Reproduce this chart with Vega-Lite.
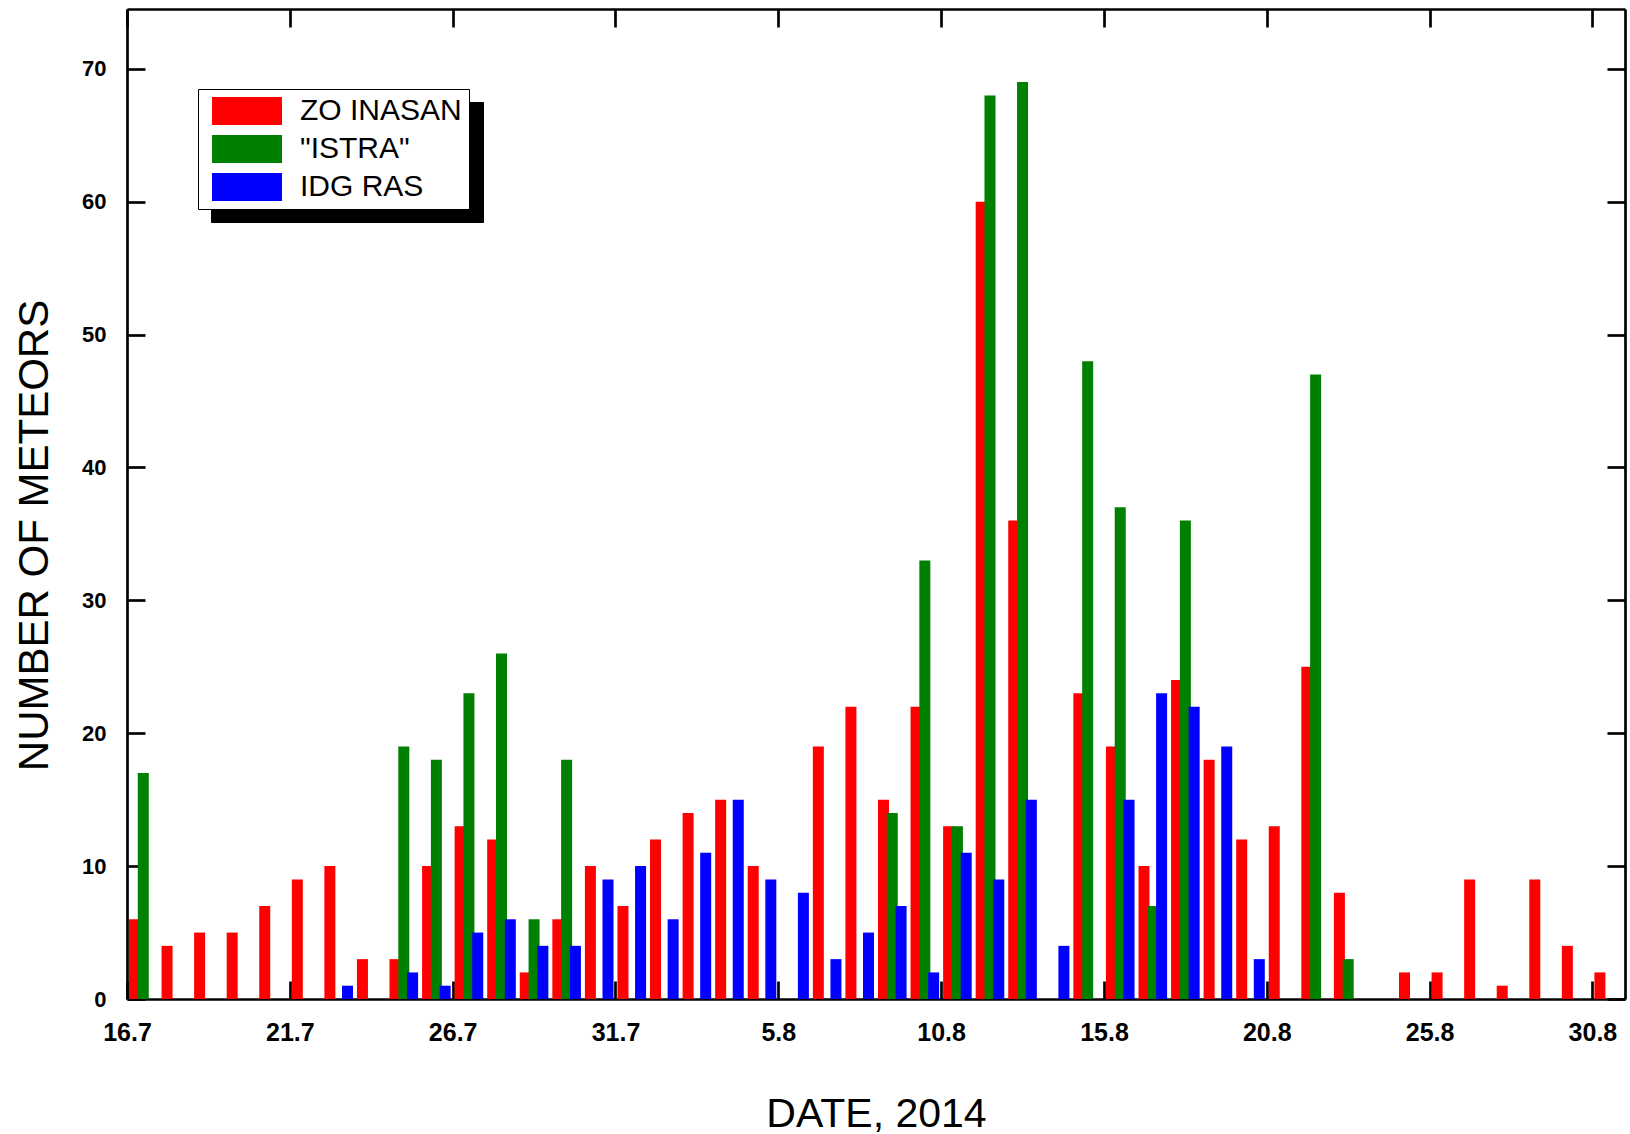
{
  "$schema": "https://vega.github.io/schema/vega-lite/v6.json",
  "width": 1498,
  "height": 990,
  "autosize": {"type": "none"},
  "padding": {"left": 127, "top": 9, "right": 5, "bottom": 135},
  "background": "white",
  "config": {"view": {"stroke": null}, "font": "Liberation Sans"},
  "data": {"values": [
    {"date": "16.7", "series": "ZO INASAN", "count": 6},
    {"date": "17.7", "series": "ZO INASAN", "count": 4},
    {"date": "18.7", "series": "ZO INASAN", "count": 5},
    {"date": "19.7", "series": "ZO INASAN", "count": 5},
    {"date": "20.7", "series": "ZO INASAN", "count": 7},
    {"date": "21.7", "series": "ZO INASAN", "count": 9},
    {"date": "22.7", "series": "ZO INASAN", "count": 10},
    {"date": "23.7", "series": "ZO INASAN", "count": 3},
    {"date": "24.7", "series": "ZO INASAN", "count": 3},
    {"date": "25.7", "series": "ZO INASAN", "count": 10},
    {"date": "26.7", "series": "ZO INASAN", "count": 13},
    {"date": "27.7", "series": "ZO INASAN", "count": 12},
    {"date": "28.7", "series": "ZO INASAN", "count": 2},
    {"date": "29.7", "series": "ZO INASAN", "count": 6},
    {"date": "30.7", "series": "ZO INASAN", "count": 10},
    {"date": "31.7", "series": "ZO INASAN", "count": 7},
    {"date": "1.8", "series": "ZO INASAN", "count": 12},
    {"date": "2.8", "series": "ZO INASAN", "count": 14},
    {"date": "3.8", "series": "ZO INASAN", "count": 15},
    {"date": "4.8", "series": "ZO INASAN", "count": 10},
    {"date": "6.8", "series": "ZO INASAN", "count": 19},
    {"date": "7.8", "series": "ZO INASAN", "count": 22},
    {"date": "8.8", "series": "ZO INASAN", "count": 15},
    {"date": "9.8", "series": "ZO INASAN", "count": 22},
    {"date": "10.8", "series": "ZO INASAN", "count": 13},
    {"date": "11.8", "series": "ZO INASAN", "count": 60},
    {"date": "12.8", "series": "ZO INASAN", "count": 36},
    {"date": "14.8", "series": "ZO INASAN", "count": 23},
    {"date": "15.8", "series": "ZO INASAN", "count": 19},
    {"date": "16.8", "series": "ZO INASAN", "count": 10},
    {"date": "17.8", "series": "ZO INASAN", "count": 24},
    {"date": "18.8", "series": "ZO INASAN", "count": 18},
    {"date": "19.8", "series": "ZO INASAN", "count": 12},
    {"date": "20.8", "series": "ZO INASAN", "count": 13},
    {"date": "21.8", "series": "ZO INASAN", "count": 25},
    {"date": "22.8", "series": "ZO INASAN", "count": 8},
    {"date": "24.8", "series": "ZO INASAN", "count": 2},
    {"date": "25.8", "series": "ZO INASAN", "count": 2},
    {"date": "26.8", "series": "ZO INASAN", "count": 9},
    {"date": "27.8", "series": "ZO INASAN", "count": 1},
    {"date": "28.8", "series": "ZO INASAN", "count": 9},
    {"date": "29.8", "series": "ZO INASAN", "count": 4},
    {"date": "30.8", "series": "ZO INASAN", "count": 2},
    {"date": "16.7", "series": "\"ISTRA\"", "count": 17},
    {"date": "24.7", "series": "\"ISTRA\"", "count": 19},
    {"date": "25.7", "series": "\"ISTRA\"", "count": 18},
    {"date": "26.7", "series": "\"ISTRA\"", "count": 23},
    {"date": "27.7", "series": "\"ISTRA\"", "count": 26},
    {"date": "28.7", "series": "\"ISTRA\"", "count": 6},
    {"date": "29.7", "series": "\"ISTRA\"", "count": 18},
    {"date": "8.8", "series": "\"ISTRA\"", "count": 14},
    {"date": "9.8", "series": "\"ISTRA\"", "count": 33},
    {"date": "10.8", "series": "\"ISTRA\"", "count": 13},
    {"date": "11.8", "series": "\"ISTRA\"", "count": 68},
    {"date": "12.8", "series": "\"ISTRA\"", "count": 69},
    {"date": "14.8", "series": "\"ISTRA\"", "count": 48},
    {"date": "15.8", "series": "\"ISTRA\"", "count": 37},
    {"date": "16.8", "series": "\"ISTRA\"", "count": 7},
    {"date": "17.8", "series": "\"ISTRA\"", "count": 36},
    {"date": "21.8", "series": "\"ISTRA\"", "count": 47},
    {"date": "22.8", "series": "\"ISTRA\"", "count": 3},
    {"date": "22.7", "series": "IDG RAS", "count": 1},
    {"date": "24.7", "series": "IDG RAS", "count": 2},
    {"date": "25.7", "series": "IDG RAS", "count": 1},
    {"date": "26.7", "series": "IDG RAS", "count": 5},
    {"date": "27.7", "series": "IDG RAS", "count": 6},
    {"date": "28.7", "series": "IDG RAS", "count": 4},
    {"date": "29.7", "series": "IDG RAS", "count": 4},
    {"date": "30.7", "series": "IDG RAS", "count": 9},
    {"date": "31.7", "series": "IDG RAS", "count": 10},
    {"date": "1.8", "series": "IDG RAS", "count": 6},
    {"date": "2.8", "series": "IDG RAS", "count": 11},
    {"date": "3.8", "series": "IDG RAS", "count": 15},
    {"date": "4.8", "series": "IDG RAS", "count": 9},
    {"date": "5.8", "series": "IDG RAS", "count": 8},
    {"date": "6.8", "series": "IDG RAS", "count": 3},
    {"date": "7.8", "series": "IDG RAS", "count": 5},
    {"date": "8.8", "series": "IDG RAS", "count": 7},
    {"date": "9.8", "series": "IDG RAS", "count": 2},
    {"date": "10.8", "series": "IDG RAS", "count": 11},
    {"date": "11.8", "series": "IDG RAS", "count": 9},
    {"date": "12.8", "series": "IDG RAS", "count": 15},
    {"date": "13.8", "series": "IDG RAS", "count": 4},
    {"date": "15.8", "series": "IDG RAS", "count": 15},
    {"date": "16.8", "series": "IDG RAS", "count": 23},
    {"date": "17.8", "series": "IDG RAS", "count": 22},
    {"date": "18.8", "series": "IDG RAS", "count": 19},
    {"date": "19.8", "series": "IDG RAS", "count": 3}
  ]},
  "layer": [
    {
      "mark": {"type": "bar", "width": 11},
      "encoding": {
        "x": {
          "field": "date", "type": "ordinal",
          "scale": {
            "domain": ["16.7","17.7","18.7","19.7","20.7","21.7","22.7","23.7","24.7","25.7","26.7","27.7","28.7","29.7","30.7","31.7","1.8","2.8","3.8","4.8","5.8","6.8","7.8","8.8","9.8","10.8","11.8","12.8","13.8","14.8","15.8","16.8","17.8","18.8","19.8","20.8","21.8","22.8","23.8","24.8","25.8","26.8","27.8","28.8","29.8","30.8"],
            "paddingInner": 0, "paddingOuter": 0.0002
          },
          "axis": {
            "orient": "bottom",
            "values": ["16.7","21.7","26.7","31.7","5.8","10.8","15.8","20.8","25.8","30.8"],
            "tickOffset": -16.28,
            "labelAngle": 0,
            "labelFont": "Liberation Sans",
            "labelFontWeight": "bold",
            "labelFontSize": 25,
            "labelColor": "black",
            "labelPadding": 39,
            "labelOverlap": false,
            "labelFlush": false,
            "labelBound": false,
            "tickSize": -18,
            "tickWidth": 2.7,
            "tickColor": "black",
            "domainColor": "black",
            "domainWidth": 2.7,
            "grid": false,
            "title": "DATE, 2014",
            "titleFont": "Liberation Sans",
            "titleFontSize": 41,
            "titleFontWeight": "normal",
            "titleColor": "black",
            "titleBaseline": "alphabetic",
            "titleAlign": "center",
            "titleX": 749,
            "titleY": 127
          }
        },
        "xOffset": {
          "field": "series", "type": "nominal",
          "scale": {"domain": ["ZO INASAN", "\"ISTRA\"", "IDG RAS"], "paddingInner": 0, "paddingOuter": 0.35}
        },
        "y": {
          "field": "count", "type": "quantitative", "stack": null,
          "scale": {"domain": [0, 74.5], "nice": false, "zero": true},
          "axis": {
            "orient": "left",
            "values": [0, 10, 20, 30, 40, 50, 60, 70],
            "labelFont": "Liberation Sans",
            "labelFontWeight": "bold",
            "labelFontSize": 22,
            "labelColor": "black",
            "labelPadding": 39,
            "tickSize": -18,
            "tickWidth": 2.7,
            "tickColor": "black",
            "domainColor": "black",
            "domainWidth": 2.7,
            "grid": false,
            "title": "NUMBER OF METEORS",
            "titleFont": "Liberation Sans",
            "titleFontSize": 42,
            "titleFontWeight": "normal",
            "titleColor": "black",
            "titleAngle": -90,
            "titleAlign": "center",
            "titleBaseline": "alphabetic",
            "titleX": -80,
            "titleY": 526
          }
        },
        "color": {
          "field": "series", "type": "nominal",
          "scale": {"domain": ["ZO INASAN", "\"ISTRA\"", "IDG RAS"], "range": ["#ff0000", "#008000", "#0000ff"]},
          "legend": {
            "orient": "none",
            "legendX": 71,
            "legendY": 80,
            "title": null,
            "direction": "vertical",
            "symbolType": "M-2.5,-1H2.5V1H-2.5Z",
            "symbolSize": 784,
            "symbolStrokeWidth": 0,
            "labelFont": "Liberation Sans",
            "labelFontSize": 30,
            "labelColor": "black",
            "labelLimit": 400,
            "padding": 7,
            "rowPadding": 8,
            "symbolOffset": 27,
            "labelOffset": 38,
            "strokeColor": "black",
            "fillColor": "white",
            "zindex": 2
          }
        }
      }
    },
    {
      "mark": {"type": "bar", "opacity": 0},
      "encoding": {
        "x": {
          "field": "date", "type": "ordinal",
          "axis": {
            "orient": "top",
            "values": ["16.7","21.7","26.7","31.7","5.8","10.8","15.8","20.8","25.8","30.8"],
            "tickOffset": -16.28,
            "labels": false,
            "tickSize": -18,
            "tickWidth": 2.7,
            "tickColor": "black",
            "domainColor": "black",
            "domainWidth": 2.7,
            "grid": false,
            "title": null
          }
        },
        "y": {
          "field": "count", "type": "quantitative", "stack": null,
          "axis": {
            "orient": "right",
            "values": [0, 10, 20, 30, 40, 50, 60, 70],
            "labels": false,
            "tickSize": -18,
            "tickWidth": 2.7,
            "tickColor": "black",
            "domainColor": "black",
            "domainWidth": 2.7,
            "grid": false,
            "title": null
          }
        },
        "strokeDash": {
          "field": "series", "type": "nominal",
          "legend": {
            "orient": "none",
            "legendX": 84,
            "legendY": 93,
            "title": null,
            "direction": "vertical",
            "symbolType": "M-2.5,-1H2.5V1H-2.5Z",
            "symbolSize": 784,
            "symbolStrokeWidth": 0,
            "symbolOpacity": 0,
            "labelFont": "Liberation Sans",
            "labelFontSize": 30,
            "labelColor": "black",
            "labelExpr": "''",
            "labelLimit": 400,
            "padding": 7,
            "rowPadding": 8,
            "symbolOffset": 27,
            "labelOffset": 201,
            "strokeColor": "black",
            "fillColor": "black",
            "zindex": 1
          }
        }
      }
    }
  ],
  "resolve": {"axis": {"x": "independent", "y": "independent"}}
}
